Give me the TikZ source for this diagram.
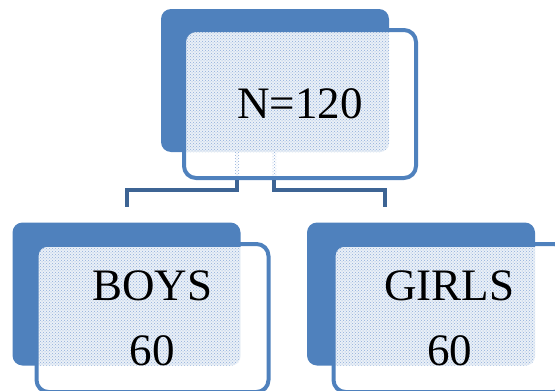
\documentclass[tikz,border=0pt]{standalone}
\usepackage{fontspec}
\setmainfont{Liberation Serif}
\usetikzlibrary{calc, patterns}

\definecolor{cardblue}{HTML}{4F81BD}
\definecolor{linkblue}{HTML}{3D6494}
\definecolor{dotblue}{HTML}{8FAEDA}

\begin{document}
\begin{tikzpicture}[
  x=1pt,
  y=-1pt,
  line cap=butt,
  backcard/.style={fill=cardblue, rounded corners=10pt, inner sep=0pt,
                   minimum width=228pt, minimum height=143pt},
  frontcard/.style={draw=cardblue, line width=4pt, rounded corners=12pt,
                    inner sep=0pt, align=center,
                    minimum width=232pt, minimum height=148pt,
                    font=\fontsize{45}{65}\selectfont},
  dots/.style={pattern=crosshatch dots, pattern color=dotblue},
  link/.style={draw=linkblue, line width=4pt},
]

% Rahmen des Bildes
\useasboundingbox (0,0) rectangle (555,391);
\clip (0,0) rectangle (555,391);

% hintere, gefuellte Karten
\node[backcard] (rootback) at (275,80.5) {};
\node[backcard] (boysback) at (126.5,294) {};
\node[backcard] (girlsback) at (421,294) {};

% vordere Karten (nur weisse Flaeche)
\fill[white, rounded corners=12pt] (184,30) rectangle (416,178);
\fill[white, rounded corners=12pt] (37,247) rectangle (268,400);
\fill[white, rounded corners=12pt] (334,247) rectangle (565,400);

% Punktraster in der Ueberlappung
\begin{scope}
  \clip[rounded corners=10pt] (184,30) rectangle (416,178);
  \fill[cardblue!12, rounded corners=10pt] (rootback.north west) rectangle (rootback.south east);
  \fill[dots, rounded corners=10pt] (rootback.north west) rectangle (rootback.south east);
\end{scope}
\begin{scope}
  \clip[rounded corners=10pt] (37,247) rectangle (268,400);
  \fill[cardblue!12, rounded corners=10pt] (boysback.north west) rectangle (boysback.south east);
  \fill[dots, rounded corners=10pt] (boysback.north west) rectangle (boysback.south east);
\end{scope}
\begin{scope}
  \clip[rounded corners=10pt] (334,247) rectangle (565,400);
  \fill[cardblue!12, rounded corners=10pt] (girlsback.north west) rectangle (girlsback.south east);
  \fill[dots, rounded corners=10pt] (girlsback.north west) rectangle (girlsback.south east);
\end{scope}

% Reste der Verbinder hinter der oberen Karte
\fill[dots] (235,152) rectangle (239,178);
\fill[dots] (272,152) rectangle (276,178);

% vordere Karten mit Text
\node[frontcard] (root) at (300,104) {N=120};
\node[frontcard] (boys) at (152.5,318) {BOYS\\60};
\node[frontcard] (girls) at (449.5,318) {GIRLS\\60};

% Verbinder
\coordinate (boysend) at (127,207);
\coordinate (girlsend) at (385,207);
\draw[link] ($(root.south)+(-63,0)$) |- ($(boysend)+(0,-17)$) -- (boysend);
\draw[link] ($(root.south)+(-26,0)$) |- ($(girlsend)+(0,-17)$) -- (girlsend);

\end{tikzpicture}
\end{document}
